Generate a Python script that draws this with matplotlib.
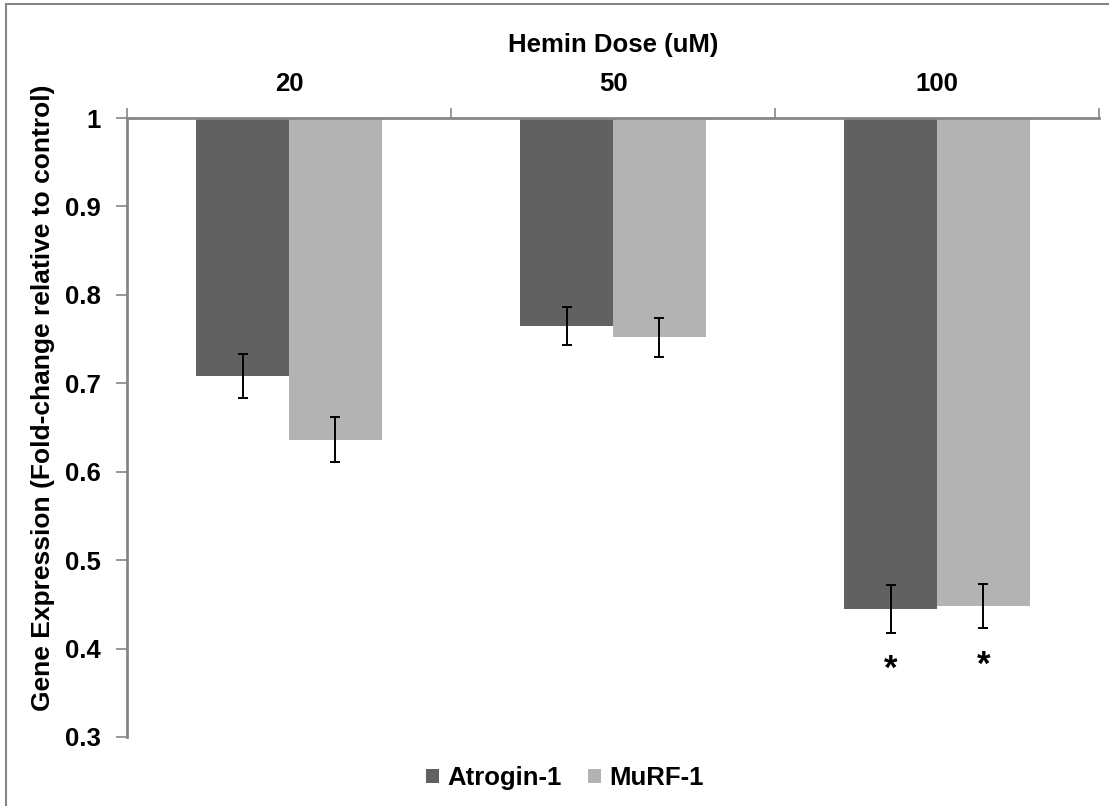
import numpy as np
import matplotlib
matplotlib.use('Agg')
import matplotlib.pyplot as plt
from matplotlib.lines import Line2D

plt.rcParams['font.family'] = ['Liberation Sans', 'DejaVu Sans']
plt.rcParams['font.weight'] = 'bold'

# Hemin dose groups and fold-change per gene
doses = ['20', '50', '100']
atrogin = [0.708, 0.765, 0.445]
atrogin_err = [0.025, 0.0215, 0.027]
murf = [0.636, 0.752, 0.448]
murf_err = [0.0255, 0.022, 0.025]
# which bars get a significance star (dose index)
significant = [2]

dark = '#616161'
light = '#b3b3b3'
axis_grey = '#868686'
fs = 18.5

fig = plt.figure(figsize=(11.09, 8.06), dpi=100)
ax = fig.add_axes([127 / 1109, 1 - 737 / 806, 972 / 1109, 619 / 806])

x = np.arange(len(doses))
w = 1 / 3.5

# bars hang down from 1 (no change) to the measured value
ax.bar(x - w / 2, np.array(atrogin) - 1, width=w, bottom=1, color=dark, label='Atrogin-1', zorder=2)
ax.bar(x + w / 2, np.array(murf) - 1, width=w, bottom=1, color=light, label='MuRF-1', zorder=2)
ax.errorbar(x - w / 2, atrogin, yerr=atrogin_err, fmt='none', ecolor='black', elinewidth=1.4, capsize=3.5, capthick=1.4, zorder=3)
ax.errorbar(x + w / 2, murf, yerr=murf_err, fmt='none', ecolor='black', elinewidth=1.4, capsize=3.5, capthick=1.4, zorder=3)

for i in significant:
    ax.text(x[i] - w / 2, atrogin[i] - atrogin_err[i] - 0.042, '*', ha='center', va='center', fontsize=25, fontweight='bold')
    ax.text(x[i] + w / 2, murf[i] - murf_err[i] - 0.042, '*', ha='center', va='center', fontsize=25, fontweight='bold')

ax.set_xlim(-0.5, len(doses) - 0.5)
ax.set_ylim(0.3, 1.0)
ax.set_yticks(np.arange(0.3, 1.01, 0.1))
ax.set_yticklabels(['0.3', '0.4', '0.5', '0.6', '0.7', '0.8', '0.9', '1'])

# category axis sits at the top, ticks between groups
ax.xaxis.tick_top()
ax.xaxis.set_label_position('top')
ax.set_xticks(x)
ax.set_xticklabels(doses, fontsize=fs, fontweight='bold')
ax.tick_params(axis='x', which='major', length=0, pad=16)
ax.set_xticks(np.arange(-0.5, len(doses)), minor=True)
ax.tick_params(axis='x', which='minor', length=7, width=1.2, color=axis_grey, direction='out')
ax.set_xlabel('Hemin Dose (uM)', fontsize=fs, fontweight='bold', labelpad=14.5)

ax.tick_params(axis='y', length=8, width=1.2, color=axis_grey, labelsize=fs, pad=11)
ax.set_ylabel('Gene Expression (Fold-change relative to control)', fontsize=19, fontweight='bold')
ax.yaxis.set_label_coords(-0.074, 0.548)

for side in ['right', 'bottom']:
    ax.spines[side].set_visible(False)
for side in ['left', 'top']:
    ax.spines[side].set_color(axis_grey)
    ax.spines[side].set_linewidth(2)
    ax.spines[side].set_zorder(4)

fig.legend(loc='center', bbox_to_anchor=(565 / 1109, 1 - 778 / 806), ncol=2, frameon=False,
           handlelength=0.5, handleheight=0.5, handletextpad=0.35, columnspacing=1.0,
           prop={'weight': 'bold', 'size': fs})

# chart area outline
fig.add_artist(Line2D([6 / 1109, 6 / 1109], [0, 1 - 4 / 806], color=axis_grey, lw=1.5))
fig.add_artist(Line2D([6 / 1109, 1], [1 - 4 / 806, 1 - 4 / 806], color=axis_grey, lw=1.5))

fig.savefig('out.png', dpi=100)
